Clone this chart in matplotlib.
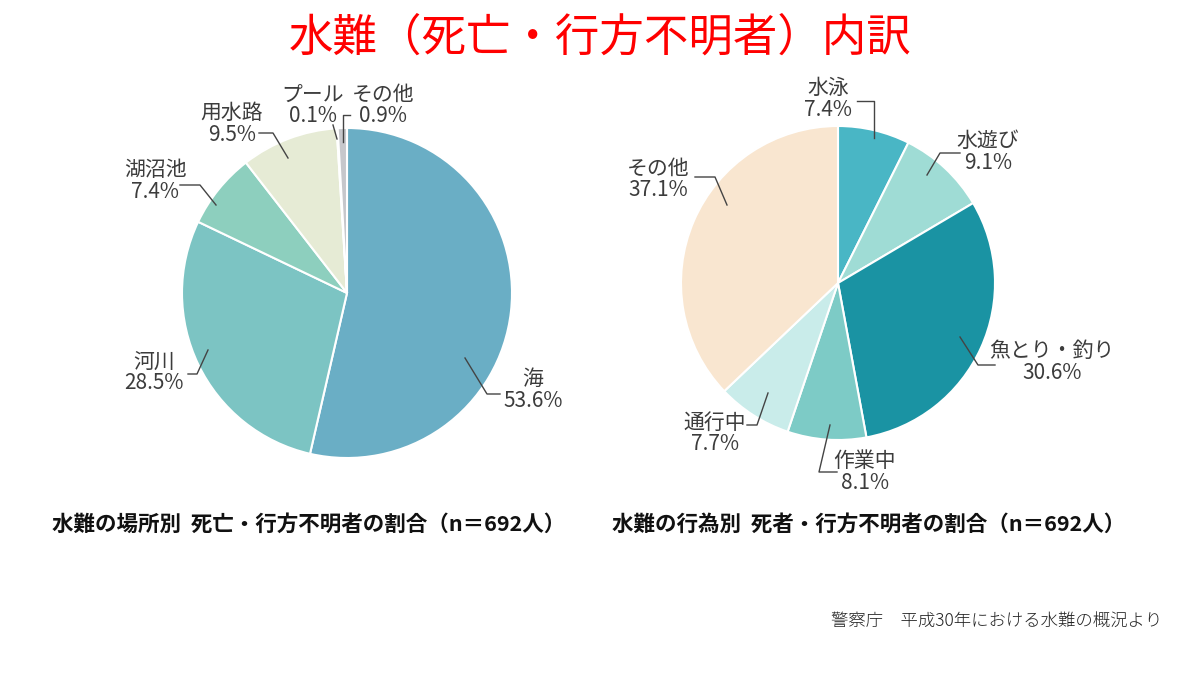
import matplotlib.pyplot as plt

plt.rcParams['font.family'] = ['Noto Sans CJK JP', 'DejaVu Sans']

# left pie: place of accident
place_labels = ['海', '河川', '湖沼池', '用水路', 'プール', 'その他']
place_values = [53.6, 28.5, 7.4, 9.5, 0.1, 0.9]
place_colors = ['#6aaec5', '#7cc4c3', '#8dcfbe', '#e6ebd5', '#dfe3cf', '#c6c7cb']

# right pie: activity at time of accident
act_labels = ['水泳', '水遊び', '魚とり・釣り', '作業中', '通行中', 'その他']
act_values = [7.4, 9.1, 30.6, 8.1, 7.7, 37.1]
act_colors = ['#49b6c5', '#9fdcd5', '#1a93a3', '#7dcbc6', '#c9ecea', '#f9e6d0']

title = '水難（死亡・行方不明者）内訳'
sub_left = '水難の場所別  死亡・行方不明者の割合（n＝692人）'
sub_right = '水難の行為別  死者・行方不明者の割合（n＝692人）'
source = '警察庁　平成30年における水難の概況より'

# label layout in pixel coords (y down): text x, text y, leader start, elbow, end x
place_layout = [
    (533, 390, (465, 358), (487, 394), 500),
    (154, 372, (208, 350), (197, 374), 188),
    (155, 181, (216, 205), (200, 185), 180),
    (232, 124, (288, 158), (273, 133), 259),
    (313, 105, (337, 139), (333, 125), 333),
    (383, 105, (343, 142), (343, 115), 350),
]
act_layout = [
    (828, 99, (874, 138), (874, 101), 857),
    (988, 152, (927, 175), (940, 153), 960),
    (1052, 362, (960, 337), (978, 365), 995),
    (865, 472, (830, 425), (819, 472), 837),
    (715, 433, (768, 393), (757, 425), 747),
    (658, 179, (727, 205), (715, 177), 695),
]

H = 675
fig = plt.figure(figsize=(12, 6.75), dpi=100)
ax = fig.add_axes([0, 0, 1, 1])
ax.set_xlim(0, 1200)
ax.set_ylim(0, H)


def draw_pie(values, labels, colors, center, radius, layout):
    ax.pie(values, colors=colors, startangle=90, counterclock=False,
           center=(center[0], H - center[1]), radius=radius,
           wedgeprops=dict(edgecolor='white', linewidth=1.5))
    for lab, val, (tx, ty, st, el, hx) in zip(labels, values, layout):
        ax.plot([st[0], el[0], hx], [H - st[1], H - el[1], H - el[1]],
                color='#444444', lw=1.0)
        ax.text(tx, H - ty, '%s\n%.1f%%' % (lab, val), ha='center', va='center',
                fontsize=15, color='#3c3c3c', linespacing=0.95)


draw_pie(place_values, place_labels, place_colors, (347, 293), 165, place_layout)
draw_pie(act_values, act_labels, act_colors, (838, 283), 157, act_layout)

ax.set_xlim(0, 1200)
ax.set_ylim(0, H)
ax.set_aspect('auto')
ax.axis('off')

fig.text(0.5, 1 - 38 / H, title, ha='center', va='center', color='#ff0000', fontsize=32)
fig.text(52 / 1200, 1 - 524 / H, sub_left, ha='left', va='center', fontsize=15.5,
         fontweight='bold', color='#111111')
fig.text(612 / 1200, 1 - 524 / H, sub_right, ha='left', va='center', fontsize=15.5,
         fontweight='bold', color='#111111')
fig.text(1162 / 1200, 1 - 621 / H, source, ha='right', va='center', fontsize=12.5,
         color='#222222', fontweight='light')

fig.savefig('out.png', dpi=100, facecolor='white')
